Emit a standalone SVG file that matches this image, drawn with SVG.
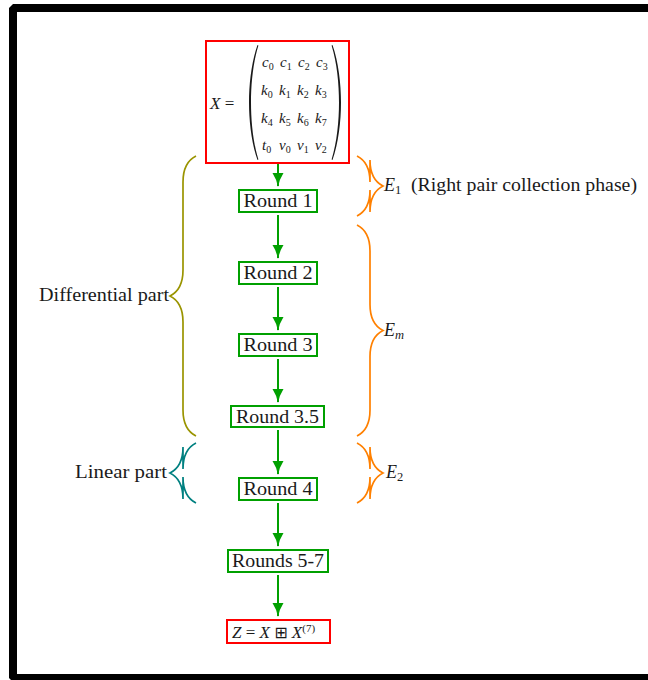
<svg xmlns="http://www.w3.org/2000/svg" width="648" height="680" viewBox="0 0 648 680">
  <style>
    .lbl { font-family: "Liberation Serif", "Times New Roman", serif; font-size: 19px; fill: #1a1a1a; }
    .math { font-family: "Liberation Serif", "Times New Roman", serif; font-style: italic; fill: #1a1a1a; }
    .mat { font-family: "Liberation Serif", "Times New Roman", serif; font-style: italic; font-size: 15px; fill: #1a1a1a; }
    .sub { font-size: 10px; font-style: normal; }
    .idx { font-size: 12.5px; font-style: normal; }
    .rnd { fill: #ffffff; stroke: #00a000; stroke-width: 2; }
    .io { fill: #ffffff; stroke: #ff0000; stroke-width: 2; }
    .flow { stroke: #00a000; stroke-width: 2; fill: none; marker-end: url(#head); }
    .brace { fill: none; stroke-width: 1.7; }
    .olive { stroke: #9a9400; }
    .teal { stroke: #008080; }
    .orange { stroke: #ff8000; }
    .paren { fill: #1a1a1a; }
  </style>
  <defs>
    <marker id="head" markerUnits="userSpaceOnUse" markerWidth="15" markerHeight="12" refX="13" refY="5.5" orient="auto">
      <path d="M0,0 Q6,4 14,5.5 Q6,7 0,11 Z" fill="#00a000"/>
    </marker>
  </defs>

  <!-- outer frame -->
  <rect x="13" y="8" width="650" height="670" fill="#ffffff" stroke="#000000" stroke-width="8" stroke-linejoin="bevel"/>

  <!-- connectors -->
  <g id="connectors">
    <line class="flow" x1="278" y1="162" x2="278" y2="186"/>
    <line class="flow" x1="278" y1="215" x2="278" y2="258"/>
    <line class="flow" x1="278" y1="287" x2="278" y2="330"/>
    <line class="flow" x1="278" y1="359" x2="278" y2="402"/>
    <line class="flow" x1="278" y1="430" x2="278" y2="474"/>
    <line class="flow" x1="278" y1="503" x2="278" y2="546"/>
    <line class="flow" x1="278" y1="575" x2="278" y2="616"/>
  </g>

  <!-- input state matrix -->
  <g id="node-x">
    <rect class="io" x="206" y="41" width="143" height="122"/>
    <text class="math" x="210" y="109" font-size="17">X <tspan font-style="normal">=</tspan></text>
    <path class="paren" d="M257.5,45 C251.5,62 249,84 249,102.5 C249,121 251.5,143 257.5,160 L258.4,159.4 C253,142 251,121 251,102.5 C251,84 253,63 258.4,45.6 Z"/>
    <path class="paren" d="M332.5,45 C338.5,62 341,84 341,102.5 C341,121 338.5,143 332.5,160 L331.6,159.4 C337,142 339,121 339,102.5 C339,84 337,63 331.6,45.6 Z"/>
    <text class="mat" y="67">
      <tspan x="262">c<tspan class="sub" dy="3">0</tspan></tspan><tspan x="280" dy="-3">c<tspan class="sub" dy="3">1</tspan></tspan><tspan x="298" dy="-3">c<tspan class="sub" dy="3">2</tspan></tspan><tspan x="316" dy="-3">c<tspan class="sub" dy="3">3</tspan></tspan>
    </text>
    <text class="mat" y="95">
      <tspan x="261">k<tspan class="sub" dy="3">0</tspan></tspan><tspan x="279" dy="-3">k<tspan class="sub" dy="3">1</tspan></tspan><tspan x="297" dy="-3">k<tspan class="sub" dy="3">2</tspan></tspan><tspan x="315" dy="-3">k<tspan class="sub" dy="3">3</tspan></tspan>
    </text>
    <text class="mat" y="123">
      <tspan x="261">k<tspan class="sub" dy="3">4</tspan></tspan><tspan x="279" dy="-3">k<tspan class="sub" dy="3">5</tspan></tspan><tspan x="297" dy="-3">k<tspan class="sub" dy="3">6</tspan></tspan><tspan x="315" dy="-3">k<tspan class="sub" dy="3">7</tspan></tspan>
    </text>
    <text class="mat" y="150">
      <tspan x="262">t<tspan class="sub" dy="3">0</tspan></tspan><tspan x="279" dy="-3">v<tspan class="sub" dy="3">0</tspan></tspan><tspan x="297" dy="-3">v<tspan class="sub" dy="3">1</tspan></tspan><tspan x="315" dy="-3">v<tspan class="sub" dy="3">2</tspan></tspan>
    </text>
  </g>

  <g id="node-r1">
    <rect class="rnd" x="239" y="190" width="78" height="22"/>
    <text class="lbl" x="278" y="207" text-anchor="middle" textLength="69" lengthAdjust="spacingAndGlyphs">Round 1</text>
  </g>
  <g id="node-r2">
    <rect class="rnd" x="239" y="262" width="78" height="22"/>
    <text class="lbl" x="278" y="279" text-anchor="middle" textLength="69" lengthAdjust="spacingAndGlyphs">Round 2</text>
  </g>
  <g id="node-r3">
    <rect class="rnd" x="239" y="334" width="78" height="22"/>
    <text class="lbl" x="278" y="351" text-anchor="middle" textLength="69" lengthAdjust="spacingAndGlyphs">Round 3</text>
  </g>
  <g id="node-r35">
    <rect class="rnd" x="231" y="406" width="93" height="21"/>
    <text class="lbl" x="277.5" y="423" text-anchor="middle" textLength="83" lengthAdjust="spacingAndGlyphs">Round 3.5</text>
  </g>
  <g id="node-r4">
    <rect class="rnd" x="239" y="478" width="78" height="22"/>
    <text class="lbl" x="278" y="495" text-anchor="middle" textLength="69" lengthAdjust="spacingAndGlyphs">Round 4</text>
  </g>
  <g id="node-r57">
    <rect class="rnd" x="228" y="550" width="100" height="22"/>
    <text class="lbl" x="278" y="567" text-anchor="middle" textLength="92" lengthAdjust="spacingAndGlyphs">Rounds 5-7</text>
  </g>
  <g id="node-z">
    <rect class="io" x="227" y="620" width="103" height="23"/>
    <text class="math" x="232" y="638" font-size="17">Z <tspan font-style="normal">=</tspan> X <tspan font-style="normal" font-family="DejaVu Sans, sans-serif" font-size="16">⊞</tspan> X<tspan font-size="11" font-style="normal" dy="-6">(7)</tspan></text>
  </g>

  <!-- phase braces -->
  <g id="brace-differential">
    <path class="brace olive" d="M196,156 C188.2,159.9 183,169 183,182 L183,270 C183,283 177.8,292.1 170,296 C177.8,299.9 183,309 183,322 L183,410 C183,423 188.2,432.1 196,436"/>
    <text class="lbl" x="169" y="301" text-anchor="end" textLength="130" lengthAdjust="spacingAndGlyphs">Differential part</text>
  </g>
  <g id="brace-linear">
    <path class="brace teal" d="M196,443 C188.2,446.9 183,456 183,469 L183,447 C183,460 177.8,469.1 170,473 C177.8,476.9 183,486 183,499 L183,477 C183,490 188.2,499.1 196,503"/>
    <text class="lbl" x="167" y="478" text-anchor="end" textLength="92" lengthAdjust="spacingAndGlyphs">Linear part</text>
  </g>
  <g id="brace-e1">
    <path class="brace orange" d="M357,156 C364.8,159.9 370,169 370,182 L370,160 C370,173 375.2,182.1 383,186 C375.2,189.9 370,199 370,212 L370,190 C370,203 364.8,212.1 357,216"/>
    <text class="math" x="384" y="191" font-size="18">E<tspan class="idx" dy="3">1</tspan></text>
    <text class="lbl" x="411" y="191" textLength="226" lengthAdjust="spacingAndGlyphs">(Right pair collection phase)</text>
  </g>
  <g id="brace-em">
    <path class="brace orange" d="M357,225 C364.8,228.9 370,238 370,251 L370,304.5 C370,317.5 375.2,326.6 383,330.5 C375.2,334.4 370,343.5 370,356.5 L370,410 C370,423 364.8,432.1 357,436"/>
    <text class="math" x="384" y="336" font-size="18">E<tspan font-size="12.5" dy="3">m</tspan></text>
  </g>
  <g id="brace-e2">
    <path class="brace orange" d="M357,443 C364.8,446.9 370,456 370,469 L370,447 C370,460 375.2,469.1 383,473 C375.2,476.9 370,486 370,499 L370,477 C370,490 364.8,499.1 357,503"/>
    <text class="math" x="386" y="478" font-size="18">E<tspan class="idx" dy="3">2</tspan></text>
  </g>
</svg>
